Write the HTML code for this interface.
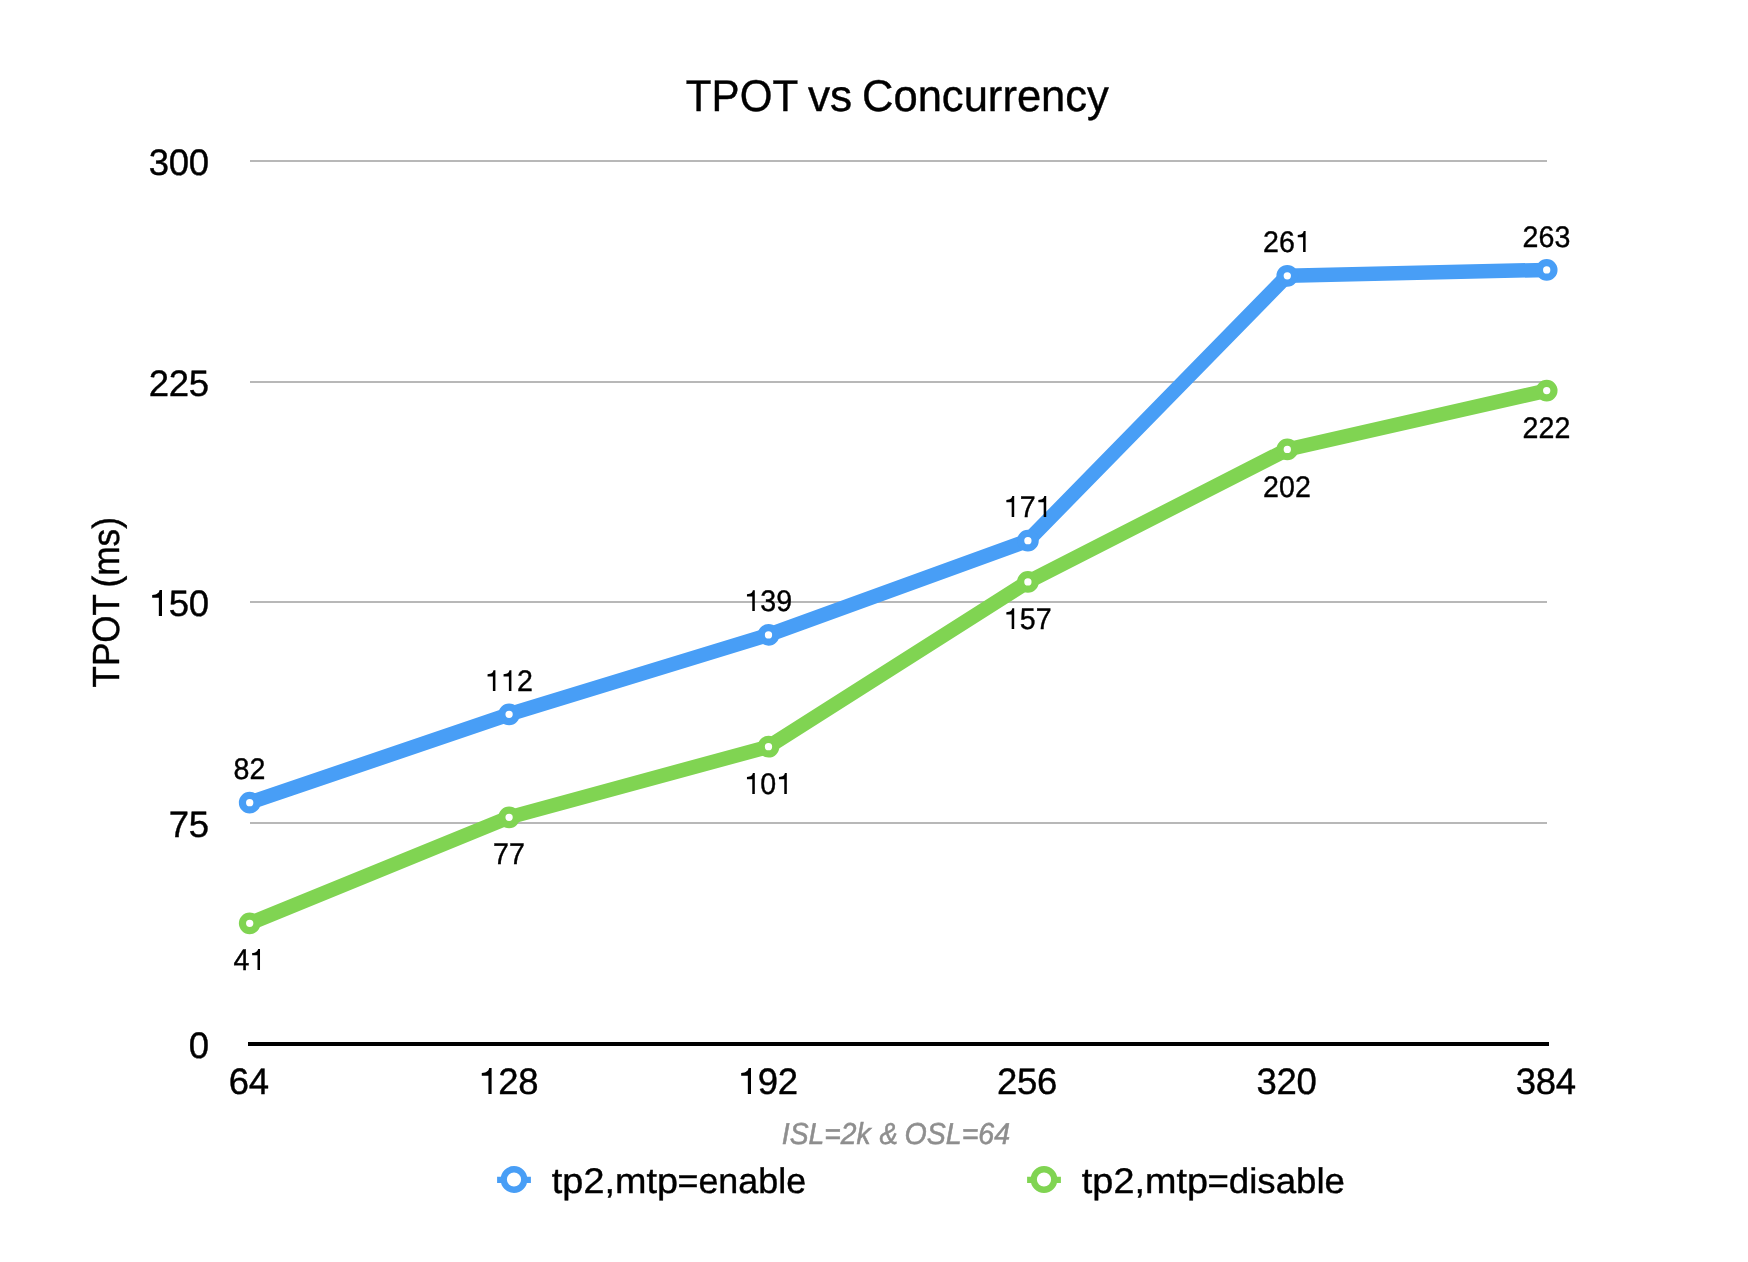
<!DOCTYPE html>
<html><head><meta charset="utf-8"><title>TPOT vs Concurrency</title>
<style>
html,body{margin:0;padding:0;background:#fff;}
body{width:1748px;height:1262px;overflow:hidden;}
svg{display:block;will-change:transform;}
text{font-family:"Liberation Sans",sans-serif;fill:#000;stroke:#000;stroke-width:0.4px;text-rendering:geometricPrecision;}
</style></head><body>
<svg width="1748" height="1262" viewBox="0 0 1748 1262">
<text transform="translate(685.79,110.90) scale(0.9575,1.0120)" font-size="44" text-anchor="start">TPOT</text>
<text transform="translate(807.95,110.90) scale(1.0060,1.0120)" font-size="44" text-anchor="start">vs</text>
<text transform="translate(861.97,110.90) scale(0.9899,1.0120)" font-size="44" text-anchor="start">Concurrency</text>
<rect x="250" y="160" width="1297" height="2" fill="#b8b8b8"/>
<rect x="250" y="381" width="1297" height="2" fill="#b8b8b8"/>
<rect x="250" y="601" width="1297" height="2" fill="#b8b8b8"/>
<rect x="250" y="822" width="1297" height="2" fill="#b8b8b8"/>
<text transform="translate(158.80,175.00) scale(1.0150,1.0220)" font-size="36" text-anchor="middle">3</text>
<text transform="translate(178.80,175.00) scale(1.0150,1.0220)" font-size="36" text-anchor="middle">0</text>
<text transform="translate(198.80,175.00) scale(1.0150,1.0220)" font-size="36" text-anchor="middle">0</text>
<text transform="translate(158.80,396.00) scale(1.0150,1.0220)" font-size="36" text-anchor="middle">2</text>
<text transform="translate(178.80,396.00) scale(1.0150,1.0220)" font-size="36" text-anchor="middle">2</text>
<text transform="translate(198.80,396.00) scale(1.0150,1.0220)" font-size="36" text-anchor="middle">5</text>
<path transform="translate(148.80,616.00) scale(35.971)" d="M0.367,0 L0.367,-0.724 L0.300,-0.724 C0.287,-0.648 0.237,-0.596 0.094,-0.586 L0.094,-0.507 L0.279,-0.507 L0.279,0 Z"/>
<text transform="translate(178.80,616.00) scale(1.0150,1.0220)" font-size="36" text-anchor="middle">5</text>
<text transform="translate(198.80,616.00) scale(1.0150,1.0220)" font-size="36" text-anchor="middle">0</text>
<text transform="translate(178.80,837.00) scale(1.0150,1.0220)" font-size="36" text-anchor="middle">7</text>
<text transform="translate(198.80,837.00) scale(1.0150,1.0220)" font-size="36" text-anchor="middle">5</text>
<text transform="translate(198.80,1058.00) scale(1.0150,1.0220)" font-size="36" text-anchor="middle">0</text>
<text transform="translate(119.40,687.43) rotate(-90) scale(0.9704,1.0500)" font-size="36" text-anchor="start">TPOT</text>
<text transform="translate(119.40,587.40) rotate(-90) scale(0.9763,1.0500)" font-size="36" text-anchor="start">(ms)</text>
<polyline points="249.70,923.32 509.10,817.36 768.50,746.72 1027.90,581.90 1287.30,449.45 1546.70,390.58" fill="none" stroke="#80d452" stroke-width="14.5" stroke-linejoin="round" stroke-linecap="round"/>
<circle cx="249.70" cy="923.32" r="7.25" fill="#fff" stroke="#80d452" stroke-width="7.2"/>
<circle cx="509.10" cy="817.36" r="7.25" fill="#fff" stroke="#80d452" stroke-width="7.2"/>
<circle cx="768.50" cy="746.72" r="7.25" fill="#fff" stroke="#80d452" stroke-width="7.2"/>
<circle cx="1027.90" cy="581.90" r="7.25" fill="#fff" stroke="#80d452" stroke-width="7.2"/>
<circle cx="1287.30" cy="449.45" r="7.25" fill="#fff" stroke="#80d452" stroke-width="7.2"/>
<circle cx="1546.70" cy="390.58" r="7.25" fill="#fff" stroke="#80d452" stroke-width="7.2"/>
<polyline points="249.70,802.65 509.10,714.35 768.50,634.88 1027.90,540.69 1287.30,275.79 1546.70,269.90" fill="none" stroke="#489ef6" stroke-width="14.5" stroke-linejoin="round" stroke-linecap="round"/>
<circle cx="249.70" cy="802.65" r="7.25" fill="#fff" stroke="#489ef6" stroke-width="7.2"/>
<circle cx="509.10" cy="714.35" r="7.25" fill="#fff" stroke="#489ef6" stroke-width="7.2"/>
<circle cx="768.50" cy="634.88" r="7.25" fill="#fff" stroke="#489ef6" stroke-width="7.2"/>
<circle cx="1027.90" cy="540.69" r="7.25" fill="#fff" stroke="#489ef6" stroke-width="7.2"/>
<circle cx="1287.30" cy="275.79" r="7.25" fill="#fff" stroke="#489ef6" stroke-width="7.2"/>
<circle cx="1546.70" cy="269.90" r="7.25" fill="#fff" stroke="#489ef6" stroke-width="7.2"/>
<line x1="248" x2="1549" y1="1044.0" y2="1044.0" stroke="#000" stroke-width="4"/>
<text transform="translate(241.45,779.00) scale(0.9520,0.9920)" font-size="30" text-anchor="middle">8</text>
<text transform="translate(257.45,779.00) scale(0.9520,0.9920)" font-size="30" text-anchor="middle">2</text>
<path transform="translate(484.85,691.00) scale(28.777)" d="M0.367,0 L0.367,-0.724 L0.300,-0.724 C0.287,-0.648 0.237,-0.596 0.094,-0.586 L0.094,-0.507 L0.279,-0.507 L0.279,0 Z"/>
<path transform="translate(500.85,691.00) scale(28.777)" d="M0.367,0 L0.367,-0.724 L0.300,-0.724 C0.287,-0.648 0.237,-0.596 0.094,-0.586 L0.094,-0.507 L0.279,-0.507 L0.279,0 Z"/>
<text transform="translate(524.85,691.00) scale(0.9520,0.9920)" font-size="30" text-anchor="middle">2</text>
<path transform="translate(744.25,611.00) scale(28.777)" d="M0.367,0 L0.367,-0.724 L0.300,-0.724 C0.287,-0.648 0.237,-0.596 0.094,-0.586 L0.094,-0.507 L0.279,-0.507 L0.279,0 Z"/>
<text transform="translate(768.25,611.00) scale(0.9520,0.9920)" font-size="30" text-anchor="middle">3</text>
<text transform="translate(784.25,611.00) scale(0.9520,0.9920)" font-size="30" text-anchor="middle">9</text>
<path transform="translate(1003.65,516.90) scale(28.777)" d="M0.367,0 L0.367,-0.724 L0.300,-0.724 C0.287,-0.648 0.237,-0.596 0.094,-0.586 L0.094,-0.507 L0.279,-0.507 L0.279,0 Z"/>
<text transform="translate(1027.65,516.90) scale(0.9520,0.9920)" font-size="30" text-anchor="middle">7</text>
<path transform="translate(1035.65,516.90) scale(28.777)" d="M0.367,0 L0.367,-0.724 L0.300,-0.724 C0.287,-0.648 0.237,-0.596 0.094,-0.586 L0.094,-0.507 L0.279,-0.507 L0.279,0 Z"/>
<text transform="translate(1271.05,251.95) scale(0.9520,0.9920)" font-size="30" text-anchor="middle">2</text>
<text transform="translate(1287.05,251.95) scale(0.9520,0.9920)" font-size="30" text-anchor="middle">6</text>
<path transform="translate(1295.05,251.95) scale(28.777)" d="M0.367,0 L0.367,-0.724 L0.300,-0.724 C0.287,-0.648 0.237,-0.596 0.094,-0.586 L0.094,-0.507 L0.279,-0.507 L0.279,0 Z"/>
<text transform="translate(1530.45,247.00) scale(0.9520,0.9920)" font-size="30" text-anchor="middle">2</text>
<text transform="translate(1546.45,247.00) scale(0.9520,0.9920)" font-size="30" text-anchor="middle">6</text>
<text transform="translate(1562.45,247.00) scale(0.9520,0.9920)" font-size="30" text-anchor="middle">3</text>
<text transform="translate(241.45,969.95) scale(0.9520,0.9920)" font-size="30" text-anchor="middle">4</text>
<path transform="translate(249.45,969.95) scale(28.777)" d="M0.367,0 L0.367,-0.724 L0.300,-0.724 C0.287,-0.648 0.237,-0.596 0.094,-0.586 L0.094,-0.507 L0.279,-0.507 L0.279,0 Z"/>
<text transform="translate(500.85,863.95) scale(0.9520,0.9920)" font-size="30" text-anchor="middle">7</text>
<text transform="translate(516.85,863.95) scale(0.9520,0.9920)" font-size="30" text-anchor="middle">7</text>
<path transform="translate(744.25,793.95) scale(28.777)" d="M0.367,0 L0.367,-0.724 L0.300,-0.724 C0.287,-0.648 0.237,-0.596 0.094,-0.586 L0.094,-0.507 L0.279,-0.507 L0.279,0 Z"/>
<text transform="translate(768.25,793.95) scale(0.9520,0.9920)" font-size="30" text-anchor="middle">0</text>
<path transform="translate(776.25,793.95) scale(28.777)" d="M0.367,0 L0.367,-0.724 L0.300,-0.724 C0.287,-0.648 0.237,-0.596 0.094,-0.586 L0.094,-0.507 L0.279,-0.507 L0.279,0 Z"/>
<path transform="translate(1003.65,629.00) scale(28.777)" d="M0.367,0 L0.367,-0.724 L0.300,-0.724 C0.287,-0.648 0.237,-0.596 0.094,-0.586 L0.094,-0.507 L0.279,-0.507 L0.279,0 Z"/>
<text transform="translate(1027.65,629.00) scale(0.9520,0.9920)" font-size="30" text-anchor="middle">5</text>
<text transform="translate(1043.65,629.00) scale(0.9520,0.9920)" font-size="30" text-anchor="middle">7</text>
<text transform="translate(1271.05,497.05) scale(0.9520,0.9920)" font-size="30" text-anchor="middle">2</text>
<text transform="translate(1287.05,497.05) scale(0.9520,0.9920)" font-size="30" text-anchor="middle">0</text>
<text transform="translate(1303.05,497.05) scale(0.9520,0.9920)" font-size="30" text-anchor="middle">2</text>
<text transform="translate(1530.45,438.05) scale(0.9520,0.9920)" font-size="30" text-anchor="middle">2</text>
<text transform="translate(1546.45,438.05) scale(0.9520,0.9920)" font-size="30" text-anchor="middle">2</text>
<text transform="translate(1562.45,438.05) scale(0.9520,0.9920)" font-size="30" text-anchor="middle">2</text>
<text transform="translate(239.00,1094.00) scale(1.0150,1.0220)" font-size="36" text-anchor="middle">6</text>
<text transform="translate(259.00,1094.00) scale(1.0150,1.0220)" font-size="36" text-anchor="middle">4</text>
<path transform="translate(478.40,1094.00) scale(35.971)" d="M0.367,0 L0.367,-0.724 L0.300,-0.724 C0.287,-0.648 0.237,-0.596 0.094,-0.586 L0.094,-0.507 L0.279,-0.507 L0.279,0 Z"/>
<text transform="translate(508.40,1094.00) scale(1.0150,1.0220)" font-size="36" text-anchor="middle">2</text>
<text transform="translate(528.40,1094.00) scale(1.0150,1.0220)" font-size="36" text-anchor="middle">8</text>
<path transform="translate(737.80,1094.00) scale(35.971)" d="M0.367,0 L0.367,-0.724 L0.300,-0.724 C0.287,-0.648 0.237,-0.596 0.094,-0.586 L0.094,-0.507 L0.279,-0.507 L0.279,0 Z"/>
<text transform="translate(767.80,1094.00) scale(1.0150,1.0220)" font-size="36" text-anchor="middle">9</text>
<text transform="translate(787.80,1094.00) scale(1.0150,1.0220)" font-size="36" text-anchor="middle">2</text>
<text transform="translate(1007.20,1094.00) scale(1.0150,1.0220)" font-size="36" text-anchor="middle">2</text>
<text transform="translate(1027.20,1094.00) scale(1.0150,1.0220)" font-size="36" text-anchor="middle">5</text>
<text transform="translate(1047.20,1094.00) scale(1.0150,1.0220)" font-size="36" text-anchor="middle">6</text>
<text transform="translate(1266.60,1094.00) scale(1.0150,1.0220)" font-size="36" text-anchor="middle">3</text>
<text transform="translate(1286.60,1094.00) scale(1.0150,1.0220)" font-size="36" text-anchor="middle">2</text>
<text transform="translate(1306.60,1094.00) scale(1.0150,1.0220)" font-size="36" text-anchor="middle">0</text>
<text transform="translate(1526.00,1094.00) scale(1.0150,1.0220)" font-size="36" text-anchor="middle">3</text>
<text transform="translate(1546.00,1094.00) scale(1.0150,1.0220)" font-size="36" text-anchor="middle">8</text>
<text transform="translate(1566.00,1094.00) scale(1.0150,1.0220)" font-size="36" text-anchor="middle">4</text>
<text transform="translate(781.82,1144.20) scale(0.9436,1.0090)" font-size="30" text-anchor="start" font-style="italic" style="fill:#8e8e8e;stroke:#8e8e8e;stroke-width:0.55px">ISL=2k</text>
<text transform="translate(879.44,1144.20) scale(0.9180,1.0090)" font-size="30" text-anchor="start" font-style="italic" style="fill:#8e8e8e;stroke:#8e8e8e;stroke-width:0.55px">&amp;</text>
<text transform="translate(904.53,1144.20) scale(0.9519,1.0090)" font-size="30" text-anchor="start" font-style="italic" style="fill:#8e8e8e;stroke:#8e8e8e;stroke-width:0.55px">OSL=64</text>
<line x1="497.1" x2="530.9" y1="1179.9" y2="1179.9" stroke="#489ef6" stroke-width="6.2"/>
<circle cx="514.0" cy="1179.5" r="10.25" fill="#fff" stroke="#489ef6" stroke-width="6.3"/>
<text transform="translate(551.87,1192.60) scale(1.0500,0.9900)" font-size="36" text-anchor="start">tp2,mtp</text>
<text transform="translate(677.46,1192.60) scale(0.9964,0.9900)" font-size="36" text-anchor="start">=enable</text>
<line x1="1027.1" x2="1060.9" y1="1179.9" y2="1179.9" stroke="#80d452" stroke-width="6.2"/>
<circle cx="1044.0" cy="1179.5" r="10.25" fill="#fff" stroke="#80d452" stroke-width="6.3"/>
<text transform="translate(1081.87,1192.60) scale(1.0500,0.9900)" font-size="36" text-anchor="start">tp2,mtp</text>
<text transform="translate(1207.42,1192.60) scale(1.0178,0.9900)" font-size="36" text-anchor="start">=disable</text>
</svg>
</body></html>
